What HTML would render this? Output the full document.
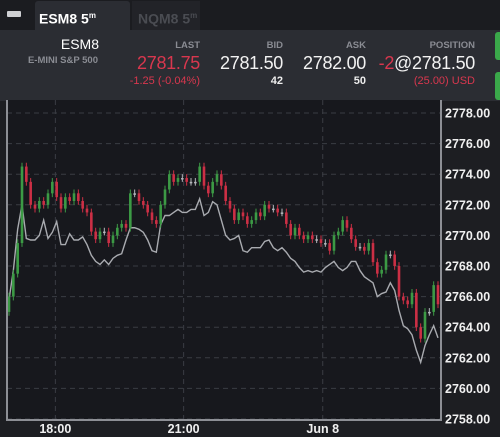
<!DOCTYPE html>
<html><head><meta charset="utf-8"><style>
body{margin:0;width:500px;height:437px;overflow:hidden;background:#1d1e22;font-family:"Liberation Sans",sans-serif;position:relative}
.abs{position:absolute}
.hdr{color:#8a8c93;font-size:9.5px;font-weight:bold}
.big{font-size:18px;color:#f2f2f2;letter-spacing:-0.3px}
.red{color:#d8374e}
</style></head><body>
<div class="abs" style="left:0;top:0;width:500px;height:30px;background:#1b1c20"></div>
<div class="abs" style="left:7px;top:11px;width:14px;height:6px;background:#cfd0d3;border-radius:1px"></div>
<div class="abs" style="left:35px;top:1px;width:95px;height:29px;background:#2b2d33;border-radius:3px 3px 0 0;color:#fff;font-size:14px;font-weight:bold;line-height:29px;padding-left:4px;box-sizing:border-box">ESM8 5<sup style="font-size:8px">m</sup></div>
<div class="abs" style="left:132px;top:1px;width:68px;height:29px;background:#222328;color:#4a4c52;font-size:14px;font-weight:bold;line-height:29px;padding-left:6px;box-sizing:border-box">NQM8 5<sup style="font-size:8px">m</sup></div>
<div class="abs" style="left:0;top:30px;width:500px;height:71px;background:#2b2d33"></div>
<div class="abs" style="right:401px;top:36px;color:#fff;font-size:14px">ESM8</div>
<div class="abs hdr" style="right:402px;top:55px">E-MINI S&amp;P 500</div>
<div class="abs hdr" style="right:300px;top:40px">LAST</div>
<div class="abs big red" style="right:300px;top:53px">2781.75</div>
<div class="abs red" style="right:300px;top:75px;font-size:11px">-1.25 (-0.04%)</div>
<div class="abs hdr" style="right:217px;top:40px">BID</div>
<div class="abs big" style="right:217px;top:53px">2781.50</div>
<div class="abs" style="right:217px;top:75px;font-size:11px;color:#eee;font-weight:bold">42</div>
<div class="abs hdr" style="right:134px;top:40px">ASK</div>
<div class="abs big" style="right:134px;top:53px">2782.00</div>
<div class="abs" style="right:134px;top:75px;font-size:11px;color:#eee;font-weight:bold">50</div>
<div class="abs hdr" style="right:25px;top:40px">POSITION</div>
<div class="abs big" style="right:25px;top:53px"><span class="red">-2</span>@2781.50</div>
<div class="abs red" style="right:25px;top:75px;font-size:11px">(25.00) USD</div>
<div class="abs" style="left:495px;top:32px;width:10px;height:28px;background:#3aa84a;border-radius:3px"></div>
<div class="abs" style="left:495px;top:72px;width:10px;height:28px;background:#3aa84a;border-radius:3px"></div>
<svg class="abs" style="left:0;top:0" width="500" height="437" id="chart"></svg>
<script>
const closes=[2766.0,2767.5,2769.5,2774.5,2773.5,2772.0,2771.75,2772.25,2772.0,2772.75,2773.5,2772.5,2771.75,2772.5,2772.25,2772.75,2772.25,2771.75,2771.5,2770.25,2769.75,2770.25,2770.25,2769.5,2770.0,2770.5,2770.75,2770.5,2772.75,2772.75,2772.25,2772.0,2771.5,2771.0,2770.75,2772.0,2773.0,2774.0,2773.5,2773.75,2773.75,2773.5,2773.5,2773.5,2774.5,2773.25,2772.75,2773.5,2774.0,2773.25,2772.25,2771.75,2771.0,2771.5,2771.25,2770.75,2771.0,2771.5,2771.25,2772.0,2771.75,2771.75,2771.5,2771.5,2770.75,2770.0,2770.5,2770.0,2769.75,2770.0,2769.75,2769.75,2769.5,2769.5,2769.0,2770.0,2770.25,2771.0,2770.5,2769.75,2769.25,2769.25,2769.0,2769.5,2768.25,2767.5,2767.75,2768.75,2768.75,2768.0,2766.0,2765.75,2765.5,2766.25,2764.0,2763.25,2765.0,2765.0,2766.75,2765.5];
const compare=[2765.8,2767.7,2770.4,2772.0,2769.8,2769.7,2769.7,2770.0,2771.0,2769.8,2770.2,2770.9,2769.4,2769.4,2770.1,2769.7,2769.7,2769.9,2769.4,2768.7,2768.3,2768.1,2768.4,2768.1,2768.5,2768.7,2768.8,2769.7,2770.5,2770.5,2770.4,2770.2,2769.7,2769.0,2768.9,2770.7,2771.3,2771.3,2771.5,2771.7,2771.5,2771.5,2771.7,2771.7,2772.4,2771.3,2771.5,2772.2,2772.0,2771.0,2770.0,2769.7,2769.8,2770.0,2769.0,2768.9,2769.2,2769.2,2769.2,2769.6,2769.7,2769.2,2769.0,2769.2,2768.9,2768.5,2768.3,2767.9,2767.6,2767.7,2767.6,2767.7,2767.6,2767.9,2768.1,2768.3,2767.9,2767.7,2767.9,2768.3,2768.3,2767.7,2767.3,2767.1,2766.9,2766.0,2766.2,2766.3,2766.9,2766.4,2765.1,2764.1,2763.9,2763.5,2762.5,2761.7,2762.8,2763.5,2764.1,2763.3];
const yTicks=[2778,2776,2774,2772,2770,2768,2766,2764,2762,2760,2758];
const xTickLabels=["18:00","21:00","Jun 8"];
const xTickIndex=[10.7,40.3,72.4];
const startOpen=2765.0;

const svg=document.getElementById('chart');const NS='http://www.w3.org/2000/svg';
const L=7,R=441,T=100,B=420,X0=9,X1=438;
const y=p=>113+(2778-p)*15.3;
const x=i=>X0+i*(X1-X0)/(closes.length-1);
function mk(t,a,parent){const e=document.createElementNS(NS,t);for(const k in a)e.setAttribute(k,a[k]);(parent||svg).appendChild(e);return e;}
mk('rect',{x:L,y:T,width:R-L,height:B-T,fill:'#17181d'});
yTicks.forEach(v=>{
 const g=mk('line',{x1:L,x2:R,y1:y(v),y2:y(v),stroke:'#3a3c43','stroke-dasharray':'5,4','stroke-width':1});
 
 
 const t=mk('text',{x:445,y:y(v)+4.5,fill:'#f0f0f0','font-size':12.5,'font-weight':'bold','font-family':'Liberation Sans, sans-serif'});
 t.textContent=v.toFixed(2);
 
 
});
xTickLabels.forEach((s,k)=>{
 const xx=x(xTickIndex[k]);
 const g=mk('line',{x1:xx,x2:xx,y1:T,y2:B,stroke:'#3a3c43','stroke-dasharray':'5,4'});
 
 
 const t=mk('text',{x:xx,y:433,fill:'#f0f0f0','font-size':12.5,'font-weight':'bold','text-anchor':'middle','font-family':'Liberation Sans, sans-serif'});
 t.textContent=s;
 
 
});
const pl=mk('polyline',{points:compare.map((v,i)=>x(i)+','+y(v)).join(' '),fill:'none',stroke:'#a9abb0','stroke-width':1.4});


closes.forEach((c,i)=>{
 const o=i?closes[i-1]:startOpen;
 const col=c>o?'#3c9a45':c<o?'#cc2f45':'#b5b7bc';
 const hi=Math.max(o,c)+0.25,lo=Math.min(o,c)-0.25;
 const g=mk('g',{});
 
 
 mk('line',{x1:x(i),x2:x(i),y1:y(hi),y2:y(lo),stroke:col,'stroke-width':1},g);
 const top=y(Math.max(o,c)),h=Math.max(1.5,y(Math.min(o,c))-top);
 mk('rect',{x:x(i)-1.3,y:top,width:2.6,height:h,fill:col},g);
});
mk('polyline',{points:`${L},${T} ${L},${B} ${R},${B} ${R},${T}`,fill:'none',stroke:'#8d8f95','stroke-width':2});
</script>
</body></html>
